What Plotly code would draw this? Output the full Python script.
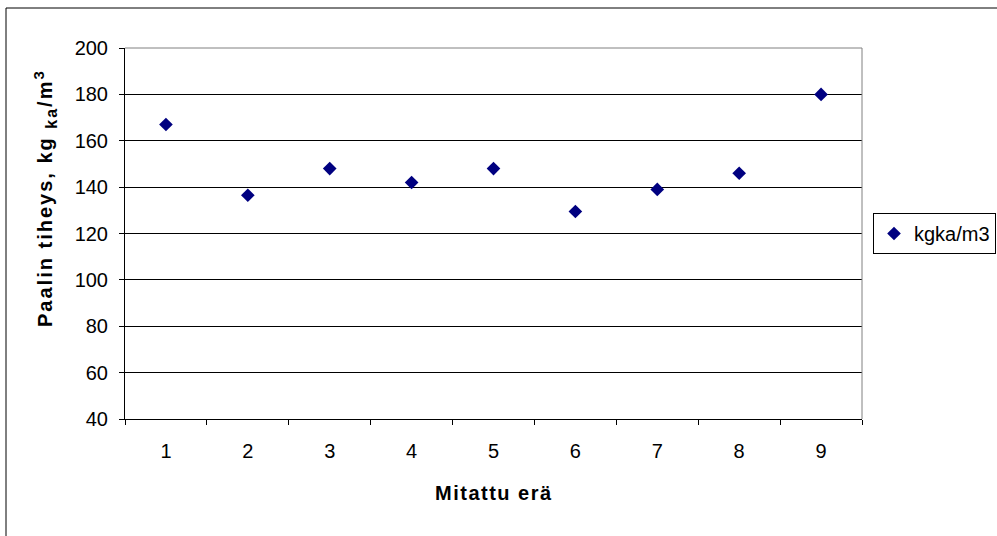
import plotly.graph_objects as go

# Measured bale densities per batch
batches = ["1", "2", "3", "4", "5", "6", "7", "8", "9"]
density = [167, 136.5, 148, 142, 148, 129.5, 139, 146, 180]
series_name = "kgka/m3"

y_ticks = [40, 60, 80, 100, 120, 140, 160, 180, 200]

FONT = "Liberation Sans, Arial, sans-serif"
W, H = 997, 536
ML, MR, MT, MB = 125, 135, 48, 117
PW, PH = W - ML - MR, H - MT - MB


def px_x(x):
    return (x - ML) / PW


def px_y(y):
    return (H - MB - y) / PH


fig = go.Figure()
fig.add_trace(go.Scatter(
    x=batches, y=density, mode="markers", name=series_name,
    marker=dict(symbol="diamond", size=10.5, color="#000080",
                line=dict(width=0)),
    showlegend=True,
))

fig.update_layout(
    width=W, height=H,
    margin=dict(l=ML, r=MR, t=MT, b=MB, pad=0, autoexpand=False),
    paper_bgcolor="white", plot_bgcolor="white",
    font=dict(family=FONT, size=20, color="black"),
    showlegend=True,
    legend=dict(
        x=px_x(873), y=px_y(233.5), xanchor="left", yanchor="middle",
        bordercolor="black", borderwidth=1, bgcolor="white",
        font=dict(family=FONT, size=20, color="black"),
        itemwidth=30,
    ),
    xaxis=dict(
        type="category", range=[-0.5, 8.5],
        showline=True, linecolor="black", linewidth=1,
        ticks="outside", ticklen=5, tickcolor="black", tickson="boundaries",
        showgrid=False, zeroline=False,
        tickfont=dict(family=FONT, size=20, color="black"),
        ticklabelstandoff=14,
    ),
    yaxis=dict(
        range=[40, 200], tickvals=y_ticks,
        showline=True, linecolor="black", linewidth=1,
        ticks="outside", ticklen=5, tickcolor="black",
        showgrid=True, gridcolor="black", gridwidth=1, zeroline=False,
        tickfont=dict(family=FONT, size=20, color="black"),
        ticklabelstandoff=7,
    ),
    annotations=[
        dict(text='<span style="letter-spacing:1.5px"><b>Mitattu erä</b></span>',
             xref="paper", yref="paper",
             x=0.5, y=px_y(493), xanchor="center", yanchor="middle",
             showarrow=False, font=dict(family=FONT, size=20, color="black")),
        dict(text='<span style="letter-spacing:2px"><b>Paalin tiheys, kg '
                  '<sub><span style="font-size:16px">ka</span></sub>/m'
                  '<sup><span style="font-size:15px">3</span></sup></b></span>',
             xref="paper", yref="paper", textangle=-90,
             x=px_x(45), y=px_y(198), xanchor="center", yanchor="middle",
             showarrow=False, font=dict(family=FONT, size=20, color="black")),
    ],
    shapes=[
        # plot area frame (top and right edges)
        dict(type="line", xref="paper", yref="paper", x0=0, x1=1, y0=1, y1=1,
             line=dict(color="#808080", width=1), layer="above"),
        dict(type="line", xref="paper", yref="paper", x0=1, x1=1, y0=0, y1=1,
             line=dict(color="#808080", width=1), layer="above"),
        # chart border
        dict(type="line", xref="paper", yref="paper",
             x0=px_x(6), x1=px_x(1010), y0=px_y(8), y1=px_y(8),
             line=dict(color="black", width=1)),
        dict(type="line", xref="paper", yref="paper",
             x0=px_x(6), x1=px_x(6), y0=px_y(8), y1=px_y(560),
             line=dict(color="black", width=1)),
    ],
)

fig.write_html("out.html")
